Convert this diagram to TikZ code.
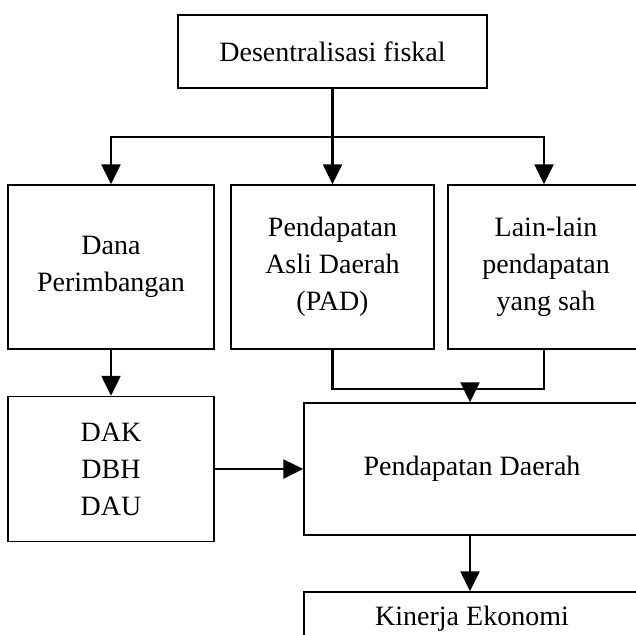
\documentclass[tikz,border=0pt]{standalone}
\usepackage{fontspec}
\setmainfont{Liberation Serif}
\usetikzlibrary{arrows.meta}
\tikzset{box/.style={draw, line width=0.7pt, align=center, inner sep=0pt, font=\fontsize{14}{18.5}\selectfont},
  link/.style={line width=1.2pt},
  arr/.style={line width=1.2pt, -{Triangle[length=10pt,width=9.5pt]}}}

\begin{document}
\begin{tikzpicture}[x=0.5pt,y=-0.5pt]
    \clip (0,0) rectangle (636,634);
    \node [box, minimum width=154.5pt, minimum height=36.5pt] (fiskal) at (332.5,51.5) {Desentralisasi fiskal};
    \node [box, minimum width=103pt, minimum height=82pt] (dana) at (111,267) {Dana\\Perimbangan};
    \node [box, minimum width=101.5pt, minimum height=82pt] (pad) at (332.5,267) {Pendapatan\\Asli Daerah\\(PAD)};
    \node [box, minimum width=98pt, minimum height=82pt] (lain) at (546,267) {Lain-lain\\pendapatan\\yang sah};
    \node [box, minimum width=103pt, minimum height=72.5pt] (dak) at (111,469) {DAK\\DBH\\DAU};
    \node [box, minimum width=168pt, minimum height=66pt] (daerah) at (472,469) {Pendapatan Daerah};
    \node [box, minimum width=168pt, minimum height=27pt] (kinerja) at (472,619) {Kinerja Ekonomi};
    \coordinate (split) at (332.5,137);
    \coordinate (join) at (470,389);
    \draw [link] (fiskal.south) -- (split);
    \draw [arr] (split) -| ([xshift=-1pt]lain.north);
    \draw [arr] (split) -| (dana.north);
    \draw [arr] (split) -- (pad.north);
    \draw [arr] (dana.south) -- (dak.north);
    \draw [link] (pad.south) |- (join);
    \draw [link] ([xshift=-1pt]lain.south) |- (join);
    \draw [arr] (join) -- (join |- daerah.north);
    \draw [arr] (dak.east) -- (daerah.west);
    \draw [arr] (join |- daerah.south) -- (join |- kinerja.north);
\end{tikzpicture}
\end{document}
